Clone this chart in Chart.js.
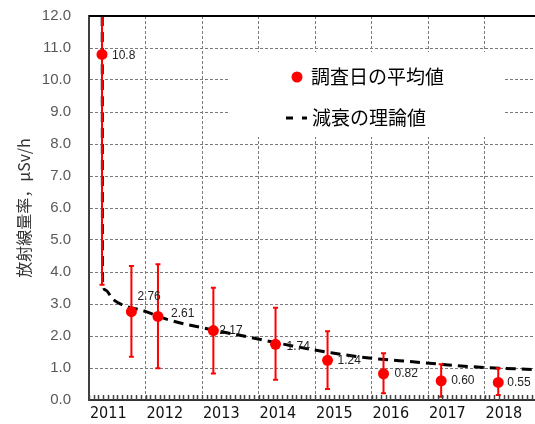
<!DOCTYPE html>
<html>
<head>
<meta charset="utf-8">
<script src="https://cdn.jsdelivr.net/npm/chart.js@4.4.1/dist/chart.umd.min.js"></script>
<style>
html, body { margin: 0; padding: 0; background: #fff; }
#wrap { width: 535px; height: 424px; }
</style>
</head>
<body>
<div id="wrap"><canvas id="grafico"></canvas></div>
<script>
// data
const years = [2011, 2012, 2013, 2014, 2015, 2016, 2017, 2018];
const yearLabels = ['2011', '2012', '2013', '2014', '2015', '2016', '2017', '2018'];

const surveyDates = [2011.23, 2011.75, 2012.22, 2013.20, 2014.30, 2015.22, 2016.21, 2017.23, 2018.24];
const surveyMeans = [10.8, 2.76, 2.61, 2.17, 1.74, 1.24, 0.82, 0.60, 0.55];
const surveyHigh  = [17.0, 4.19, 4.24, 3.51, 2.88, 2.15, 1.46, 1.12, 0.99];
const surveyLow   = [3.6, 1.35, 0.99, 0.83, 0.63, 0.34, 0.21, 0.10, 0.16];
const meanLabels  = ['10.8', '2.76', '2.61', '2.17', '1.74', '1.24', '0.82', '0.60', '0.55'];

const decayDates  = [2011.23, 2011.24, 2011.29, 2011.42, 2012.01, 2012.42, 2013.19, 2013.79, 2014.60, 2015.31, 2015.91, 2016.49, 2017.20, 2017.78, 2018.74, 2018.89];
const decayValues = [20.0, 3.70, 3.44, 3.15, 2.76, 2.50, 2.19, 1.98, 1.69, 1.47, 1.32, 1.23, 1.12, 1.04, 0.96, 0.95];

const labelOffsets = [[10, 1], [6, -15], [13, -3], [6, 0], [11, 2], [10, 0], [11, 0], [10, 0], [9, 0]];

const overlay = {
    id: 'overlay',
    beforeDatasetDraw(chart, args) {
        if (args.index !== 0) return;
        const sx = chart.scales.x, sy = chart.scales.y, ctx = chart.ctx, a = chart.chartArea;
        ctx.save();
        ctx.beginPath(); ctx.rect(a.left, a.top, a.right - a.left, a.bottom - a.top); ctx.clip();
        ctx.strokeStyle = '#ff0000'; ctx.lineWidth = 2;
        surveyDates.forEach((d, i) => {
            const px = sx.getPixelForValue(d);
            const hi = sy.getPixelForValue(surveyHigh[i]);
            const lo = sy.getPixelForValue(surveyLow[i]);
            ctx.beginPath();
            ctx.moveTo(px, hi); ctx.lineTo(px, lo);
            ctx.moveTo(px - 2.5, hi); ctx.lineTo(px + 2.5, hi);
            ctx.moveTo(px - 2.5, lo); ctx.lineTo(px + 2.5, lo);
            ctx.stroke();
        });
        ctx.restore();
    },
    afterDatasetsDraw(chart) {
        const sx = chart.scales.x, sy = chart.scales.y, ctx = chart.ctx, a = chart.chartArea;
        ctx.save();
        // value labels
        ctx.font = '12px "Liberation Sans", Arial, sans-serif';
        ctx.fillStyle = '#222'; ctx.textAlign = 'left'; ctx.textBaseline = 'middle';
        surveyDates.forEach((d, i) => {
            const px = sx.getPixelForValue(d), py = sy.getPixelForValue(surveyMeans[i]);
            ctx.fillText(meanLabels[i], px + labelOffsets[i][0], py + labelOffsets[i][1]);
        });
        // top frame line
        ctx.strokeStyle = '#000'; ctx.lineWidth = 2;
        ctx.beginPath(); ctx.moveTo(a.left, a.top); ctx.lineTo(a.right, a.top); ctx.stroke();
        // monthly minor ticks on the x axis
        ctx.strokeStyle = '#444'; ctx.lineWidth = 1.5;
        ctx.beginPath();
        for (let m = 0; 2011 + m / 12 <= sx.max; m++) {
            const px = Math.round(sx.getPixelForValue(2011 + m / 12)) + 0.5;
            ctx.moveTo(px, a.bottom); ctx.lineTo(px, a.bottom - 5);
        }
        ctx.stroke();
        // legend
        const ds = chart.data.datasets;
        ctx.fillStyle = '#fff';
        ctx.fillRect(230, 52, 273, 85);
        ctx.font = '19px "Noto Sans CJK JP", sans-serif';
        ctx.fillStyle = '#000';
        ctx.fillText(ds[0].label, 311, 77);
        ctx.fillText(ds[1].label, 312, 118);
        ctx.fillStyle = '#ff0000';
        ctx.beginPath(); ctx.arc(297, 77, 5.5, 0, Math.PI * 2); ctx.fill();
        ctx.strokeStyle = '#000'; ctx.lineWidth = 3;
        ctx.beginPath();
        ctx.moveTo(286, 118); ctx.lineTo(293, 118);
        ctx.moveTo(302, 118); ctx.lineTo(307, 118);
        ctx.stroke();
        ctx.restore();
    }
};

new Chart(document.getElementById('grafico'), {
    type: 'scatter',
    data: {
        datasets: [{
            label: '調査日の平均値',
            data: surveyDates.map((d, i) => ({ x: d, y: surveyMeans[i] })),
            backgroundColor: '#ff0000',
            borderWidth: 0,
            pointRadius: 5.5,
            order: 0
        }, {
            label: '減衰の理論値',
            data: decayDates.map((d, i) => ({ x: d, y: decayValues[i] })),
            showLine: true,
            borderColor: '#000',
            borderWidth: 3,
            borderDash: [10, 6],
            pointRadius: 0,
            cubicInterpolationMode: 'monotone',
            order: 1
        }]
    },
    options: {
        responsive: true,
        maintainAspectRatio: false,
        animation: false,
        events: [],
        layout: { autoPadding: false, padding: { top: 16, right: 0, left: 0, bottom: 0 } },
        plugins: { legend: { display: false }, tooltip: { enabled: false } },
        scales: {
            x: {
                type: 'linear',
                min: 2011,
                max: 2018.89,
                afterBuildTicks: (scale) => {
                    scale.ticks = years.flatMap(y => [{ value: y }, { value: y + 0.34 }]);
                },
                afterFit: (scale) => { scale.height = 24; },
                ticks: {
                    autoSkip: false,
                    maxRotation: 0,
                    padding: 4,
                    color: '#111',
                    font: { family: '"Liberation Sans Narrow", "DejaVu Sans Condensed", sans-serif', size: 16 },
                    callback: (v) => Number.isInteger(v) ? '' : yearLabels[years.indexOf(Math.floor(v))]
                },
                grid: {
                    drawTicks: false,
                    lineWidth: 1,
                    color: (c) => (c.tick && Number.isInteger(c.tick.value)) ? '#7a7a7a' : 'rgba(0,0,0,0)'
                },
                border: { color: '#333', width: 2, dash: [3, 2] }
            },
            y: {
                min: 0,
                max: 12,
                afterFit: (scale) => { scale.width = 89; },
                ticks: {
                    stepSize: 1,
                    padding: 2,
                    color: '#595959',
                    font: { family: '"Liberation Sans", Arial, sans-serif', size: 15 },
                    callback: (v) => v.toFixed(1)
                },
                grid: { drawTicks: true, tickLength: 16, tickColor: 'rgba(0,0,0,0)', lineWidth: 1, color: '#7a7a7a' },
                border: { color: '#404040', width: 2, dash: [3, 2] },
                title: {
                    display: true,
                    text: '放射線量率，μSv/h',
                    color: '#333',
                    font: { family: '"Noto Sans CJK JP", sans-serif', size: 16 },
                    padding: { top: 14, bottom: 0 }
                }
            }
        }
    },
    plugins: [overlay]
});
</script>
</body>
</html>
